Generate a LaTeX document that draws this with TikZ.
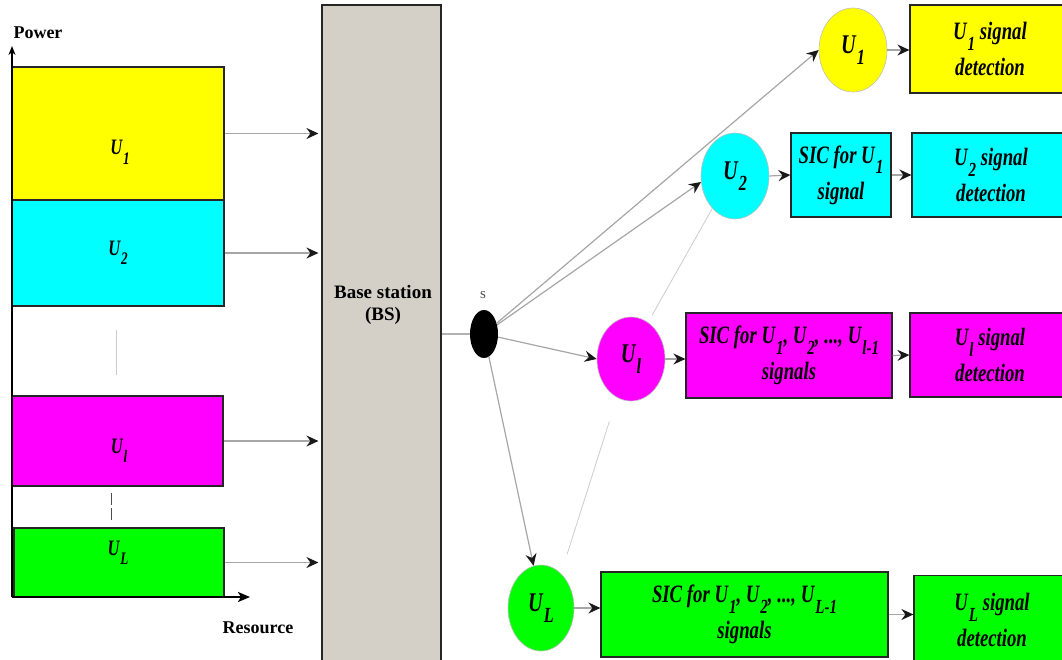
\documentclass[tikz,border=0pt]{standalone}
\usepackage{fontspec}
\setmainfont{Liberation Serif}
\newfontfamily\boxfont[FakeStretch=0.75]{Liberation Serif}
\usetikzlibrary{arrows.meta,shapes.geometric}
\newcommand{\Us}[1]{U\kern.04em\raisebox{-.42em}{\scalebox{.8}{#1}}}
\definecolor{bsgray}{RGB}{212,208,200}
\definecolor{uyellow}{RGB}{255,255,0}
\definecolor{ucyan}{RGB}{0,255,255}
\definecolor{umagenta}{RGB}{255,0,255}
\definecolor{ugreen}{RGB}{0,255,0}

\begin{document}
\begin{tikzpicture}[x=1pt,y=-1pt,
    blk/.style={draw=black!85, line width=1.2pt, inner sep=0pt},
    usr/.style={ellipse, draw=black!25, line width=0.6pt, inner sep=0pt,
                font=\boxfont\bfseries\itshape\fontsize{27}{30}\selectfont},
    txt/.style={align=center, font=\boxfont\bfseries\itshape\fontsize{25}{36}\selectfont},
    lft/.style={anchor=base, font=\boxfont\bfseries\itshape\fontsize{22}{24}\selectfont},
    feed/.style={draw=black!35, line width=1.2pt, -{Stealth[black!90,length=12pt,width=11pt,inset=4pt]}},
    faint/.style={draw=black!20, line width=0.8pt},
    axis/.style={line width=2.6pt}]
        \useasboundingbox (0,0) rectangle (1062,660);

        % power levels of the users
        \node[blk, fill=uyellow, minimum width=212, minimum height=133] (b1) at (118,133.5) {};
        \node[blk, fill=ucyan, minimum width=212, minimum height=106] (b2) at (118,253) {};
        \node[blk, fill=umagenta, minimum width=211, minimum height=90] (bl) at (117.5,441) {};
        \node[blk, fill=ugreen, minimum width=210, minimum height=69] (bL) at (119,562.5) {};
        \node[lft] (t1) at (120,155) {\Us{1}};
        \node[lft] (t2) at (118,255) {\Us{2}};
        \node[lft] (tl) at (119,453) {\Us{l}};
        \node[lft] (tL) at (118,555) {\Us{L}};
        \draw[black!20, line width=0.8pt] (116,330) -- (116,375);
        \draw[black!70, line width=0.8pt, dash pattern=on 12pt off 3pt] (111,493) -- (111,521);

        % axes
        \coordinate (org) at (12,597);
        \coordinate (ytip) at (12,46);
        \coordinate (xtip) at (250,597);
        \draw[axis, -{Stealth[length=9pt,width=7pt]}] (org) -- (ytip);
        \draw[axis, -{Stealth[length=12pt,width=10pt,inset=3pt]}] (org) -- (xtip);
        \node[font=\bfseries\fontsize{18}{20}\selectfont] (pw) at (38,33) {Power};
        \node[font=\bfseries\fontsize{18}{20}\selectfont] (rs) at (258,628) {Resource};

        % base station
        \node[blk, fill=bsgray, minimum width=119, minimum height=660] (bs) at (381.5,335) {};
        \node[font=\bfseries\fontsize{19}{22}\selectfont, align=center] (bsl) at (383,305) {Base station\\(BS)};

        \draw[feed, shorten >=3pt] (b1.east) -- (b1.east -| bs.west);
        \draw[feed, shorten >=3pt] (b2.east) -- (b2.east -| bs.west);
        \draw[feed, shorten >=3pt] (bl.east) -- (bl.east -| bs.west);
        \draw[feed, shorten >=3pt] (bL.east) -- (bL.east -| bs.west);

        % superposed signal
        \node[ellipse, fill=black, minimum width=28, minimum height=48, inner sep=0pt] (s) at (484,334) {};
        \node[text=black!70, font=\fontsize{15}{16}\selectfont] (sl) at (483,295) {s};
        \draw[black!30, line width=1.1pt] (bs.east |- s) -- (s.west);

        % receivers
        \node[usr, fill=uyellow, minimum width=68, minimum height=84] (c1) at (853,50) {\Us{1}};
        \node[usr, fill=ucyan, minimum width=68, minimum height=86] (c2) at (735,176) {\Us{2}};
        \node[usr, fill=umagenta, minimum width=68, minimum height=84] (cl) at (631,359) {\Us{l}};
        \node[usr, fill=ugreen, minimum width=66, minimum height=86] (cL) at (541,608) {\Us{L}};

        \draw[feed] (s) -- (c1.west);
        \draw[feed] (s) -- (c2.190);
        \draw[feed] (s) -- (cl.west);
        \draw[feed] (s) -- (cL.100);
        \draw[faint, shorten >=8pt] (c2.235) -- (cl.65);
        \draw[faint, shorten <=25pt, shorten >=20pt] (cl.250) -- (cL.60);

        % SIC and detection
        \node[blk, fill=uyellow, minimum width=160, minimum height=88, txt] (d1) at (990,49) {\Us{1} signal\\detection};
        \node[blk, fill=ucyan, minimum width=100, minimum height=84, txt] (sic2) at (841,175) {SIC for \Us{1}\\signal};
        \node[blk, fill=ucyan, minimum width=158, minimum height=84, txt] (d2) at (991,175) {\Us{2} signal\\detection};
        \node[blk, fill=umagenta, minimum width=206, minimum height=85, txt] (sicl) at (789,355.5) {SIC for \Us{1}, \Us{2}, ..., \Us{l-1}\\signals};
        \node[blk, fill=umagenta, minimum width=160, minimum height=84, txt] (dl) at (990,355) {\Us{l} signal\\detection};
        \node[blk, fill=ugreen, minimum width=287, minimum height=85, txt] (sicL) at (744.5,614.5) {SIC for \Us{1}, \Us{2}, ..., \Us{L-1}\\signals};
        \node[blk, fill=ugreen, minimum width=156, minimum height=89, txt] (dL) at (992,620) {\Us{L} signal\\detection};

        \draw[feed] (c1.east) -- (c1.east -| d1.west);
        \draw[feed] (c2.east) -- (sic2.west);
        \draw[feed] (sic2.east) -- (d2.west);
        \draw[feed] (cl.east) -- (cl.east -| sicl.west);
        \draw[feed] (sicl.east) -- (dl.west);
        \draw[feed] (cL.east) -- (cL.east -| sicL.west);
        \draw[feed] (sicL.east) -- (sicL.east -| dL.west);
\end{tikzpicture}
\end{document}
